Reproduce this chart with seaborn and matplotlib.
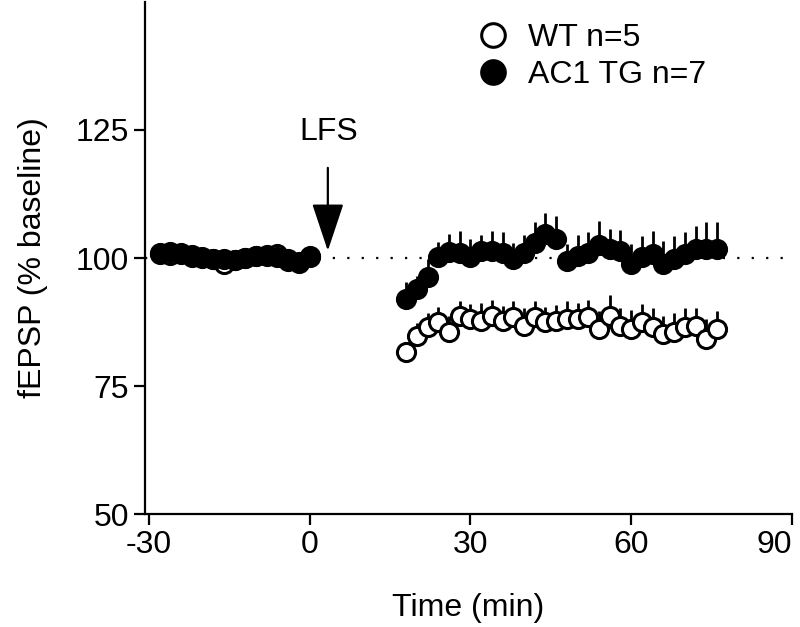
import pandas as pd
import seaborn as sns
import matplotlib.pyplot as plt
import numpy as np
from matplotlib.lines import Line2D

# time points (min), baseline and after LFS, every 2 min
time_base = [-28, -26, -24, -22, -20, -18, -16, -14, -12, -10, -8, -6, -4, -2, 0]
time_post = [18, 20, 22, 24, 26, 28, 30, 32, 34, 36, 38, 40, 42, 44, 46,
             48, 50, 52, 54, 56, 58, 60, 62, 64, 66, 68, 70, 72, 74, 76]

# fEPSP (% baseline)
wt_base = [100.8, 100.5, 101.0, 100.2, 100.0, 99.8, 98.8, 99.6, 100.0, 100.4,
           100.6, 100.8, 99.8, 99.3, 100.3]
wt_post = [81.6, 84.8, 86.5, 87.5, 85.5, 88.7, 88.1, 87.7, 88.7, 87.7, 88.4, 86.7,
           88.4, 87.5, 87.7, 88.1, 88.1, 88.4, 86.1, 88.7, 86.7, 86.1, 87.5, 86.5,
           85.2, 85.5, 86.5, 86.7, 84.2, 86.1]
tg_base = [101.0, 101.2, 100.8, 100.5, 100.2, 99.8, 99.9, 99.6, 100.0, 100.3,
           100.4, 100.2, 99.5, 99.0, 100.2]
tg_post = [92.0, 94.0, 96.3, 100.2, 101.2, 101.0, 100.2, 101.4, 101.4, 101.0, 99.8,
           101.0, 103.0, 104.7, 103.7, 99.5, 100.4, 101.0, 102.6, 101.8, 101.4, 98.8,
           100.2, 100.8, 98.8, 99.8, 100.8, 101.8, 101.8, 101.8]

# SEM (only the upper bar is drawn)
wt_err_base = [1.5] * 15
wt_err_post = [2.0, 2.5, 2.8, 3.0, 3.2, 3.0, 3.0, 3.5, 3.2, 3.0, 3.2, 3.5, 3.2, 3.0,
               3.2, 3.5, 3.2, 3.5, 3.5, 4.0, 3.5, 3.8, 3.5, 3.8, 3.5, 3.8, 3.8, 3.5,
               3.8, 3.5]
tg_err_base = [1.5] * 15
tg_err_post = [3.3, 2.5, 3.5, 3.0, 3.5, 4.3, 3.5, 3.0, 3.8, 4.0, 3.2, 3.5, 4.0, 4.0,
               4.5, 3.2, 4.0, 4.0, 4.6, 3.9, 4.0, 4.0, 4.0, 4.5, 4.5, 4.5, 4.3, 4.5,
               5.3, 5.3]

wt = pd.DataFrame({"time": time_base + time_post, "fepsp": wt_base + wt_post,
                   "sem": wt_err_base + wt_err_post})
tg = pd.DataFrame({"time": time_base + time_post, "fepsp": tg_base + tg_post,
                   "sem": tg_err_base + tg_err_post})

sns.set_style("ticks", {"axes.edgecolor": "black", "text.color": "black",
                        "axes.labelcolor": "black", "xtick.color": "black",
                        "ytick.color": "black"})
plt.rcParams['font.family'] = ['Liberation Sans', 'DejaVu Sans']
plt.rcParams['axes.unicode_minus'] = False
FS = 23

fig = plt.figure(figsize=(8, 6.27), dpi=100)
ax = fig.add_axes([0.181, 0.180, 0.809, 0.817])

# dotted baseline
ax.axhline(100, color="black", lw=1.6, ls=(0, (1, 5.5)), zorder=1)

# WT first, TG on top
for df, face in [(wt, "white"), (tg, "black")]:
    ax.vlines(df["time"], df["fepsp"], df["fepsp"] + df["sem"], color="black",
              lw=2, zorder=2)
    sns.scatterplot(data=df, x="time", y="fepsp", ax=ax, s=170, color=face,
                    edgecolor="black", linewidth=2.2, zorder=3, legend=False)

# LFS arrow
ax.annotate("", xy=(3.4, 101.4), xytext=(3.4, 117.6),
            arrowprops=dict(arrowstyle="-|>,head_length=1.5,head_width=0.5",
                            color="black", lw=1.6, mutation_scale=20,
                            shrinkA=0, shrinkB=0))
ax.text(3.6, 124.6, "LFS", ha="center", va="center", fontsize=FS)

ax.set_xlim(-30.75, 90)
ax.set_ylim(50, 150)
ax.set_xticks([-30, 0, 30, 60, 90])
ax.set_yticks([50, 75, 100, 125])
ax.set_xlabel("Time (min)", fontsize=FS, labelpad=24)
ax.set_ylabel("fEPSP (% baseline)", fontsize=FS, labelpad=20)
ax.tick_params(labelsize=FS, width=1.6, length=8, direction="out")
ax.get_xticklabels()[-1].set_ha("right")
for s in ["left", "bottom"]:
    ax.spines[s].set_linewidth(1.6)
sns.despine(ax=ax)

handles = [Line2D([], [], marker="o", ls="", ms=17, mfc="white", mec="black", mew=2.2),
           Line2D([], [], marker="o", ls="", ms=17, mfc="black", mec="black", mew=2.2)]
ax.legend(handles, ["WT n=5", "AC1 TG n=7"], loc="upper left",
          bbox_to_anchor=(0.513, 0.958), frameon=False, fontsize=FS,
          handlelength=1.0, handletextpad=0.6, labelspacing=0.2, borderaxespad=0,
          borderpad=0)

fig.savefig("out.png", dpi=100)
